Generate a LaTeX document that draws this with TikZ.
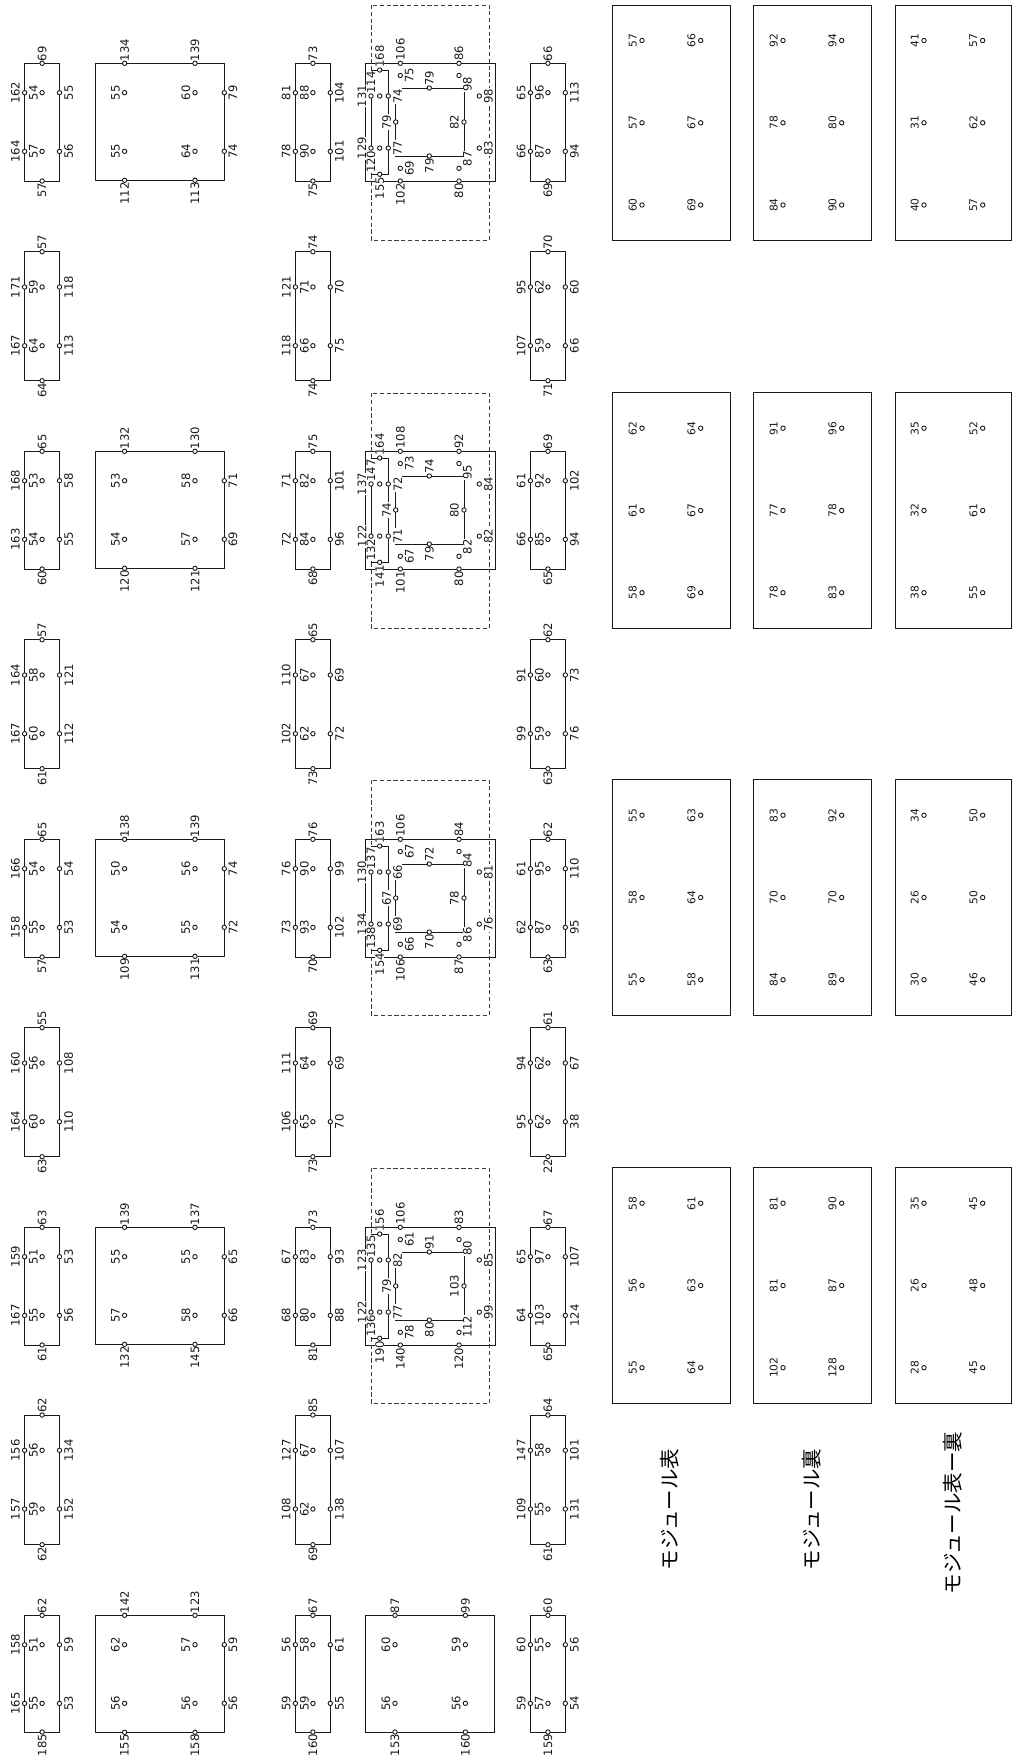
\documentclass[tikz,border=0pt]{standalone}
\usepackage{fontspec}
\setmainfont{DejaVu Sans}
\newfontfamily\cjkfont{Noto Sans CJK JP}
\newcount\nodeid
\definecolor{ink}{HTML}{1A1A1A}
\tikzset{
  numid/.style={/utils/exec={\global\advance\nodeid by 1},name=n\the\nodeid},
  lbl/.style={numid,rotate=90,inner sep=0pt,font=\fontsize{11.6}{12}\selectfont,text=ink},
  tlbl/.style={numid,rotate=90,inner sep=0pt,font=\fontsize{10.7}{11}\selectfont,text=ink},
  wlbl/.style={lbl,fill=white,inner sep=0.4pt},
  title/.style={numid,rotate=90,inner sep=0pt,font=\cjkfont\fontsize{20.5}{21}\selectfont,text=black},
  frame/.style={draw=ink,line width=1pt},
  dashbox/.style={draw=ink!85,line width=1pt,dash pattern=on 4.2pt off 2.6pt},
  hole/.style={draw=ink,line width=0.9pt,fill=white},
}
\newcommand{\hl}[2]{\draw[hole] (#1,#2) circle (2.2pt);}
\newcommand{\up}[4][lbl]{\node[#1,anchor=west] at (#2,#3-2) {#4};}
\newcommand{\dn}[4][lbl]{\node[#1,anchor=east] at (#2,#3+2) {#4};}
\newcommand{\sd}[4][lbl]{\node[#1] at (#2,#3) {#4};}
\begin{document}
\begin{tikzpicture}[x=1pt,y=-1pt]
\useasboundingbox (0,0) rectangle (1017,1764);
\fill[white] (0,0) rectangle (1017,1764);

% narrow boxes: centre x, top y, height, top label, left/inner/right first row, left/inner/right second row, bottom label
\foreach \cx/\T/\H/\ta/\la/\ia/\ra/\lb/\ib/\rb/\ba in {
 42.1/63.3/117.7/69/162/54/55/164/57/56/57,
 42.1/251.7/129/57/171/59/118/167/64/113/64,
 42.1/451.3/117.7/65/168/53/58/163/54/55/60,
 42.1/639.7/129/57/164/58/121/167/60/112/61,
 42.1/839.3/117.7/65/166/54/54/158/55/53/57,
 42.1/1027.7/129/55/160/56/108/164/60/110/63,
 42.1/1227.3/117.7/63/159/51/53/167/55/56/61,
 42.1/1415/129.7/62/156/56/134/157/59/152/62,
 42.1/1615.3/116.7/62/158/51/59/165/55/53/185,
 312.9/63.3/117.7/73/81/88/104/78/90/101/75,
 312.9/251.7/129/74/121/71/70/118/66/75/74,
 312.9/451.3/117.7/75/71/82/101/72/84/96/68,
 312.9/639.7/129/65/110/67/69/102/62/72/73,
 312.9/839.3/117.7/76/76/90/99/73/93/102/70,
 312.9/1027.7/129/69/111/64/69/106/65/70/73,
 312.9/1227.3/117.7/73/67/83/93/68/80/88/81,
 312.9/1415/129.7/85/127/67/107/108/62/138/69,
 312.9/1615.3/116.7/67/56/58/61/59/59/55/160,
 547.9/63.3/117.7/66/65/96/113/66/87/94/69,
 547.9/251.7/129/70/95/62/60/107/59/66/71,
 547.9/451.3/117.7/69/61/92/102/66/85/94/65,
 547.9/639.7/129/62/91/60/73/99/59/76/63,
 547.9/839.3/117.7/62/61/95/110/62/87/95/63,
 547.9/1027.7/129/61/94/62/67/95/62/38/22,
 547.9/1227.3/117.7/67/65/97/107/64/103/124/65,
 547.9/1415/129.7/64/147/58/101/109/55/131/61,
 547.9/1615.3/116.7/60/60/55/56/59/57/54/159}{
  \pgfmathsetmacro\ya{\T+(\H<120?29.4:35.3)}
  \pgfmathsetmacro\yb{\ya+58.7}
  \pgfmathsetmacro\yB{\T+\H}
  \pgfmathsetmacro\xl{\cx-17.5}
  \pgfmathsetmacro\xr{\cx+17.4}
  \draw[frame] (\xl,\T) rectangle (\xr,\yB);
  \up{\cx}{\T}{\ta}
  \dn{\cx}{\yB}{\ba}
  \sd{\xl-9.2}{\ya}{\la}
  \sd{\cx-8.6}{\ya}{\ia}
  \sd{\xr+9.2}{\ya}{\ra}
  \sd{\xl-9.2}{\yb}{\lb}
  \sd{\cx-8.6}{\yb}{\ib}
  \sd{\xr+9.2}{\yb}{\rb}
  \hl{\cx}{\T}\hl{\cx}{\yB}
  \hl{\xl}{\ya}\hl{\cx}{\ya}\hl{\xr}{\ya}
  \hl{\xl}{\yb}\hl{\cx}{\yb}\hl{\xr}{\yb}
}

% wide boxes in the second column
\foreach \T/\ta/\tb/\ia/\ib/\ra/\ic/\id/\rb/\ba/\bb in {
 63.3/134/139/55/60/79/55/64/74/112/113,
 451.3/132/130/53/58/71/54/57/69/120/121,
 839.3/138/139/50/56/74/54/55/72/109/131,
 1227.3/139/137/55/55/65/57/58/66/132/145,
 1615.3/142/123/62/57/59/56/56/56/155/158}{
  \pgfmathsetmacro\ya{\T+29.4}
  \pgfmathsetmacro\yb{\T+88}
  \pgfmathsetmacro\yB{\T+117}
  \draw[frame] (95,\T) rectangle (224.3,\yB);
  \up{124.6}{\T}{\ta}\up{195}{\T}{\tb}
  \dn{124.6}{\yB}{\ba}\dn{195}{\yB}{\bb}
  \sd{115.4}{\ya}{\ia}\sd{185.8}{\ya}{\ib}\sd{233}{\ya}{\ra}
  \sd{115.4}{\yb}{\ic}\sd{185.8}{\yb}{\id}\sd{233}{\yb}{\rb}
  \hl{124.6}{\T}\hl{195}{\T}\hl{124.6}{\yB}\hl{195}{\yB}
  \hl{124.6}{\ya}\hl{195}{\ya}\hl{224.3}{\ya}
  \hl{124.6}{\yb}\hl{195}{\yb}\hl{224.3}{\yb}
}

% plain box, fourth column, last row
\draw[frame] (365.4,1615.3) rectangle (494.6,1732);
\up{395}{1615.3}{87}\up{465.4}{1615.3}{99}
\dn{395}{1732}{153}\dn{465.4}{1732}{160}
\sd{385.8}{1644.7}{60}\sd{456.2}{1644.7}{59}
\sd{385.8}{1703.3}{56}\sd{456.2}{1703.3}{56}
\hl{395}{1615.3}\hl{465.4}{1615.3}\hl{395}{1732}\hl{465.4}{1732}
\hl{395}{1644.7}\hl{465.4}{1644.7}\hl{395}{1703.3}\hl{465.4}{1703.3}

% nested modules with the dashed outline
\foreach \T/\dt/\tA/\tB/\tC/\tD/\tE/\tF/\tG/\tH/\tI/\tJ/\tK/\tL/\tM/\tN/\tO/\tP/\tQ/\tR/\tS/\tU/\tV/\tW in {
 63.3/5/168/114/131/129/120/155/79/74/77/79/79/82/75/69/98/87/98/83/106/86/102/80,
 451.3/393/164/147/137/122/132/141/74/72/71/74/79/80/73/67/95/82/84/82/108/92/101/80,
 839.3/780/163/137/130/134/138/154/67/66/69/72/70/78/67/66/84/86/81/76/106/84/106/87,
 1227.3/1168/156/135/123/122/136/190/79/82/77/91/80/103/61/78/80/112/85/99/106/83/140/120}{
  \pgfmathsetmacro\yB{\T+117.7}
  \pgfmathsetmacro\db{\dt+235}
  \pgfmathsetmacro\yc{\T+6.7}
  \pgfmathsetmacro\yd{\T+111}
  \pgfmathsetmacro\ya{\T+32.7}
  \pgfmathsetmacro\yb{\T+84.8}
  \pgfmathsetmacro\yi{\T+24.7}
  \pgfmathsetmacro\yj{\T+92.7}
  \pgfmathsetmacro\ym{\T+58.7}
  \pgfmathsetmacro\ye{\T+12.2}
  \pgfmathsetmacro\yf{\T+105}
  \draw[frame] (365.3,\T) rectangle (495,\yB);
  \draw[dashbox] (371,\dt) rectangle (489.3,\db);
  \draw[frame] (371,\yc) rectangle (388.3,\yd);
  \draw[frame] (395.7,\yi) rectangle (464,\yj);
  % labels with a white ground, they interrupt the lines below them
  \up[wlbl]{379.7}{\yc}{\tA}
  \up[wlbl]{371}{\ya}{\tB}
  \sd[wlbl]{362}{\ya}{\tC}
  \sd[wlbl]{362}{\yb}{\tD}
  \dn[wlbl]{371}{\yb}{\tE}
  \dn[wlbl]{379.7}{\yd}{\tF}
  \sd[wlbl]{386.7}{\ym}{\tG}
  \sd[wlbl]{397.7}{\ya}{\tH}
  \sd[wlbl]{397.7}{\yb}{\tI}
  \up[wlbl]{429.3}{\yi}{\tJ}
  \dn[wlbl]{429.3}{\yj}{\tK}
  \sd[wlbl]{454.3}{\ym}{\tL}
  \sd[wlbl]{409.3}{\ye}{\tM}
  \sd[wlbl]{409.3}{\yf}{\tN}
  \node[wlbl,anchor=west] at (467.3,\yi+4.3) {\tO};
  \node[wlbl,anchor=east] at (467.3,\yj-5) {\tP};
  \sd[wlbl]{488.3}{\ya}{\tQ}
  \sd[wlbl]{488.3}{\yb}{\tR}
  \up[wlbl]{400.3}{\T}{\tS}
  \up[wlbl]{459}{\T}{\tU}
  \dn[wlbl]{400.3}{\yB}{\tV}
  \dn[wlbl]{459}{\yB}{\tW}
  \hl{400.3}{\T}\hl{459}{\T}\hl{400.3}{\yB}\hl{459}{\yB}
  \hl{379.7}{\yc}\hl{379.7}{\yd}
  \hl{371}{\ya}\hl{379.7}{\ya}\hl{388.3}{\ya}
  \hl{371}{\yb}\hl{379.7}{\yb}\hl{388.3}{\yb}
  \hl{429.3}{\yi}\hl{429.3}{\yj}\hl{395.7}{\ym}\hl{464}{\ym}
  \hl{400.3}{\ye}\hl{459}{\ye}\hl{400.3}{\yf}\hl{459}{\yf}
  \hl{479.3}{\ya}\hl{479.3}{\yb}
}

% module tables on the right
\foreach \L/\R/\cA/\cB/\lab in {
 612/730.3/642/700.7/{5/57/57/60/66/67/69,392.7/62/61/58/64/67/69,779.7/55/58/55/63/64/58,1167.7/58/56/55/61/63/64},
 753.3/871.7/783/841.7/{5/92/78/84/94/80/90,392.7/91/77/78/96/78/83,779.7/83/70/84/92/70/89,1167.7/81/81/102/90/87/128},
 895/1011.7/924/982.7/{5/41/31/40/57/62/57,392.7/35/32/38/52/61/55,779.7/34/26/30/50/50/46,1167.7/35/26/28/45/48/45}}{
  \foreach \T/\pa/\pb/\pc/\qa/\qb/\qc in \lab {
    \pgfmathsetmacro\yB{\T+235.5}
    \pgfmathsetmacro\ya{\T+35.5}
    \pgfmathsetmacro\yb{\T+117.8}
    \pgfmathsetmacro\yc{\T+200}
    \draw[frame] (\L,\T) rectangle (\R,\yB);
    \foreach \yy/\tp/\tq in {\ya/\pa/\qa,\yb/\pb/\qb,\yc/\pc/\qc}{
      \node[tlbl] at (\cA-9.3,\yy) {\tp};
      \node[tlbl] at (\cB-9.3,\yy) {\tq};
      \hl{\cA}{\yy}\hl{\cB}{\yy}
    }
  }
}

% titles
\node[title] (ta) at (669.7,1509.5) {モジュール表};
\node[title] (tb) at (811.7,1509.5) {モジュール裏};
\node[title] (tc) at (953,1513) {モジュール表ー裏};
\end{tikzpicture}
\end{document}
